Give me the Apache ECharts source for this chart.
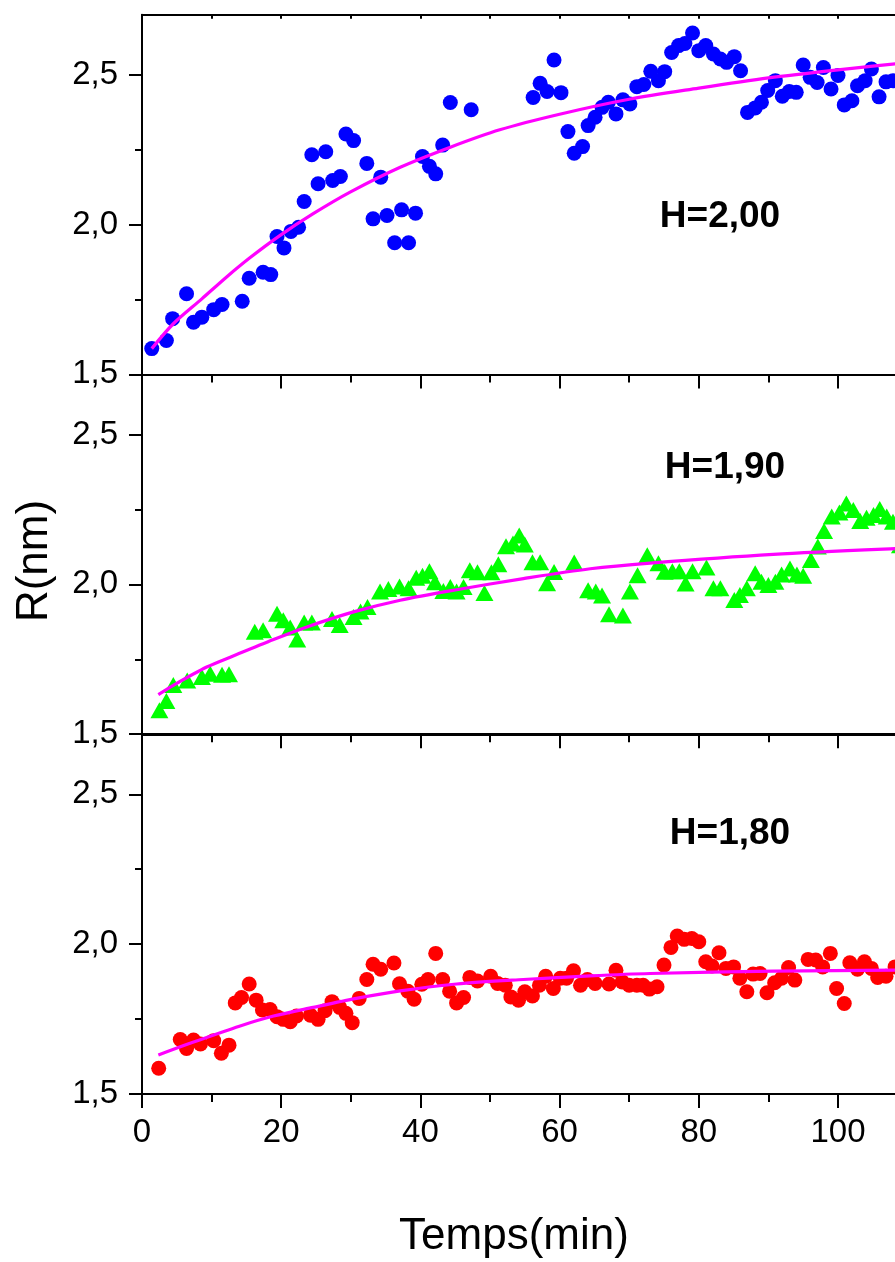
<!DOCTYPE html>
<html><head><meta charset="utf-8">
<script src="https://cdn.jsdelivr.net/npm/echarts@6/dist/echarts.min.js"></script>
<style>html,body{margin:0;padding:0;background:#fff}#c{width:895px;height:1262px}</style>
</head><body><div id="c"></div>
<script>
// ---------- data ----------
const xTop = [1.4,3.5,4.4,6.4,7.4,8.6,10.3,11.5,14.4,15.4,17.4,18.5,19.4,20.4,21.4,22.5,23.3,24.4,25.3,26.4,27.4,28.5,29.3,30.4,32.3,33.2,34.3,35.2,36.3,37.3,38.3,39.3,40.3,41.3,42.2,43.2,44.3,47.3,56.2,57.2,58.2,59.2,60.2,61.2,62.1,63.3,64.1,65.1,66.1,67.0,68.1,69.1,70.1,71.1,72.1,73.1,74.2,75.1,76.1,77.1,78.0,79.1,80.0,81.0,82.1,83.1,84.0,85.1,86.0,87.0,88.1,89.0,89.9,91.0,92.0,93.0,94.0,95.0,96.0,97.0,97.9,99.0,100.0,100.9,102.0,102.8,103.9,104.8,105.9,106.9,107.9];
const yTop = [1.586,1.613,1.686,1.769,1.674,1.691,1.716,1.733,1.744,1.821,1.841,1.833,1.960,1.922,1.977,1.991,2.077,2.233,2.136,2.243,2.147,2.160,2.302,2.280,2.204,2.019,2.158,2.030,1.939,2.049,1.939,2.038,2.227,2.194,2.169,2.265,2.407,2.383,2.424,2.471,2.444,2.549,2.440,2.310,2.238,2.260,2.330,2.358,2.391,2.408,2.369,2.416,2.402,2.460,2.467,2.511,2.480,2.510,2.574,2.597,2.604,2.639,2.580,2.597,2.569,2.552,2.541,2.560,2.513,2.374,2.389,2.408,2.447,2.480,2.428,2.444,2.441,2.532,2.491,2.474,2.524,2.452,2.497,2.399,2.413,2.463,2.480,2.519,2.426,2.476,2.480];

const xMid = [2.5,3.5,4.5,6.5,8.6,9.8,11.5,12.5,16.2,17.4,19.4,20.3,21.3,22.3,23.3,24.4,27.3,28.4,30.4,31.4,32.4,34.2,35.4,37.0,38.3,39.4,40.3,41.3,42.1,43.3,44.3,45.2,46.2,47.1,48.2,49.2,50.2,51.2,52.3,53.3,54.2,55.0,56.1,57.2,58.2,59.2,62.1,64.1,65.2,66.1,67.1,69.1,70.1,71.2,72.6,74.2,75.1,76.2,77.2,78.1,79.1,81.1,82.1,83.1,85.1,85.9,86.9,88.1,89.0,90.0,91.0,91.9,93.1,94.1,95.0,96.1,97.1,98.0,99.1,100.2,101.2,102.2,103.2,104.1,105.1,106.0,107.0,107.9,108.9];
const yMid = [1.580,1.611,1.664,1.679,1.691,1.702,1.698,1.700,1.842,1.847,1.902,1.880,1.856,1.816,1.873,1.873,1.884,1.864,1.891,1.909,1.924,1.976,1.984,1.993,1.987,2.022,2.029,2.044,2.007,1.978,1.991,1.976,1.991,2.047,2.040,1.971,2.040,2.067,2.127,2.136,2.163,2.133,2.074,2.074,2.004,2.041,2.073,1.980,1.976,1.963,1.900,1.896,1.976,2.030,2.097,2.070,2.042,2.044,2.044,2.003,2.044,2.056,1.987,1.987,1.948,1.964,1.987,2.037,2.009,1.998,2.009,2.033,2.053,2.033,2.029,2.081,2.126,2.178,2.226,2.240,2.270,2.248,2.211,2.222,2.231,2.251,2.226,2.209,2.130];

const xBot = [2.4,5.5,6.4,7.4,8.4,10.3,11.4,12.5,13.4,14.3,15.4,16.4,17.3,18.4,19.4,20.3,21.3,22.2,24.2,25.3,26.3,27.3,28.4,29.3,30.2,31.2,32.3,33.2,34.3,36.2,37.0,38.2,39.1,40.2,41.1,42.2,43.2,44.2,45.2,46.2,47.1,48.2,50.1,51.1,52.2,53.0,54.1,55.0,56.1,57.1,58.0,59.1,60.1,61.0,62.0,63.0,64.0,65.1,67.1,68.1,69.0,70.0,71.1,72.0,72.9,74.0,75.0,76.0,76.9,77.9,79.0,80.0,81.0,81.9,82.9,83.9,85.0,85.9,86.9,87.8,88.8,89.8,90.9,91.9,92.9,93.8,95.7,96.8,97.8,98.9,99.8,100.9,101.7,102.8,103.8,104.8,105.7,106.9,108.2];
const yBot = [1.586,1.682,1.652,1.680,1.667,1.678,1.636,1.663,1.804,1.822,1.867,1.813,1.780,1.782,1.758,1.749,1.741,1.760,1.763,1.749,1.778,1.808,1.789,1.769,1.738,1.819,1.882,1.933,1.916,1.937,1.868,1.843,1.816,1.866,1.882,1.969,1.882,1.843,1.804,1.822,1.889,1.877,1.893,1.869,1.863,1.824,1.813,1.841,1.827,1.863,1.893,1.852,1.886,1.886,1.911,1.863,1.882,1.869,1.867,1.913,1.874,1.863,1.863,1.863,1.850,1.858,1.930,1.989,2.027,2.016,2.019,2.008,1.941,1.927,1.971,1.919,1.924,1.886,1.841,1.900,1.902,1.838,1.871,1.886,1.922,1.880,1.949,1.947,1.924,1.969,1.852,1.802,1.938,1.916,1.941,1.919,1.889,1.893,1.924];

const fitTopX = [1.4,4.5,8.6,12.2,15.5,19.8,24.6,29.9,37.1,44.3,51.4,60,70,80,90,100,110,116];
const fitTopY = [1.586,1.669,1.752,1.826,1.889,1.963,2.036,2.108,2.191,2.258,2.316,2.368,2.418,2.455,2.489,2.516,2.540,2.552];
const fitMidX = [2.35,4.5,9.3,13.1,18.9,23.7,30.4,37.1,45.2,54.8,64.4,73.0,90.7,108.2,116];
const fitMidY = [1.632,1.663,1.724,1.761,1.816,1.858,1.908,1.947,1.982,2.019,2.052,2.071,2.100,2.119,2.125];
const fitBotX = [2.35,6.9,14.1,18.9,24.6,30.8,37.1,45.2,54.8,64.4,73.0,90.7,108.2,116];
const fitBotY = [1.630,1.669,1.727,1.760,1.789,1.819,1.844,1.867,1.882,1.894,1.902,1.910,1.913,1.915];

const yMajorTicks = [1.5, 2.0, 2.5];
const yMinorTicks = [1.75, 2.25];
const panelLabels = ['H=2,00', 'H=1,90', 'H=1,80'];
const xTitle = 'Temps(min)';
const yTitle = 'R(nm)';

// ---------- chart ----------
const FONT = '"Liberation Sans", Arial, Helvetica, sans-serif';
const chart = echarts.init(document.getElementById('c'), null, {renderer: 'canvas'});
const pair = (xs, ys) => xs.map((v, i) => [v, ys[i]]);

const gridTops = [14.7, 374.5, 734.3];
const grids = gridTops.map(t => ({left: 142, top: t, width: 974.4, height: 359.7, containLabel: false, outerBoundsMode: 'none'}));

const xAxes = [], yAxes = [];
for (let i = 0; i < 3; i++) {
  xAxes.push({
    gridIndex: i, type: 'value', position: 'bottom', min: 0, max: 140, interval: 20,
    axisLine: {show: true, onZero: false, lineStyle: {color: '#000', width: 2}},
    axisTick: {show: true, inside: false, length: 14, lineStyle: {color: '#000', width: 2}},
    minorTick: {show: true, splitNumber: 2, length: 8, lineStyle: {color: '#000', width: 2}},
    splitLine: {show: false},
    axisLabel: {show: i === 2, margin: 22, fontSize: 33, color: '#000', fontFamily: FONT}
  });
  xAxes.push({
    gridIndex: i, type: 'value', position: 'top', min: 0, max: 140, interval: 20,
    axisLine: {show: true, onZero: false, lineStyle: {color: '#000', width: 2}},
    axisTick: {show: true, inside: true, length: 4, lineStyle: {color: '#000', width: 2}},
    minorTick: {show: true, splitNumber: 2, length: 4, lineStyle: {color: '#000', width: 2}},
    splitLine: {show: false},
    axisLabel: {show: false}
  });
  yAxes.push({
    gridIndex: i, type: 'value', position: 'left', min: 1.5, max: 2.7,
    axisLine: {show: true, onZero: false, lineStyle: {color: '#000', width: 2}},
    axisTick: {show: true, inside: false, length: 13, customValues: yMajorTicks, lineStyle: {color: '#000', width: 2}},
    axisLabel: {show: true, customValues: yMajorTicks, margin: 24, fontSize: 33, color: '#000', fontFamily: FONT,
      formatter: v => v.toFixed(1).replace('.', ',')},
    splitLine: {show: false}
  });
  yAxes.push({
    gridIndex: i, type: 'value', position: 'left', min: 1.5, max: 2.7,
    axisLine: {show: false, onZero: false},
    axisTick: {show: true, inside: false, length: 7, customValues: yMinorTicks, lineStyle: {color: '#000', width: 2}},
    axisLabel: {show: false},
    splitLine: {show: false}
  });
}

const scatterDefs = [
  {x: xTop, y: yTop, color: '#0000ff', symbol: 'circle', size: 15},
  {x: xMid, y: yMid, color: '#00ff00', symbol: 'triangle', size: [18, 16]},
  {x: xBot, y: yBot, color: '#ff0000', symbol: 'circle', size: 15}
];
const fits = [[fitTopX, fitTopY], [fitMidX, fitMidY], [fitBotX, fitBotY]];

const series = [];
scatterDefs.forEach((d, i) => {
  series.push({
    type: 'scatter', xAxisIndex: 2 * i, yAxisIndex: 2 * i,
    data: pair(d.x, d.y), symbol: d.symbol, symbolSize: d.size,
    itemStyle: {color: d.color, opacity: 1}, z: 2, silent: true
  });
});
fits.forEach((f, i) => {
  series.push({
    type: 'line', xAxisIndex: 2 * i, yAxisIndex: 2 * i,
    data: pair(f[0], f[1]), showSymbol: false, smooth: 0.3,
    lineStyle: {color: '#ff00ff', width: 3.2}, z: 3, silent: true
  });
});

const labelPos = [[720, 217], [725, 468], [730, 834]];
const graphics = panelLabels.map((t, i) => ({
  type: 'text', x: labelPos[i][0], y: labelPos[i][1], z: 10,
  style: {text: t, font: 'bold 37px ' + FONT, fill: '#000', align: 'center', verticalAlign: 'middle'}
}));
graphics.push({type: 'text', x: 514, y: 1237, z: 10,
  style: {text: xTitle, font: '44px ' + FONT, fill: '#000', align: 'center', verticalAlign: 'middle'}});
graphics.push({type: 'text', x: 35, y: 561, rotation: Math.PI / 2, z: 10,
  style: {text: yTitle, font: '44px ' + FONT, fill: '#000', align: 'center', verticalAlign: 'middle'}});

chart.setOption({
  animation: false,
  backgroundColor: '#fff',
  grid: grids,
  xAxis: xAxes,
  yAxis: yAxes,
  series: series,
  graphic: graphics
});
</script>
</body></html>
